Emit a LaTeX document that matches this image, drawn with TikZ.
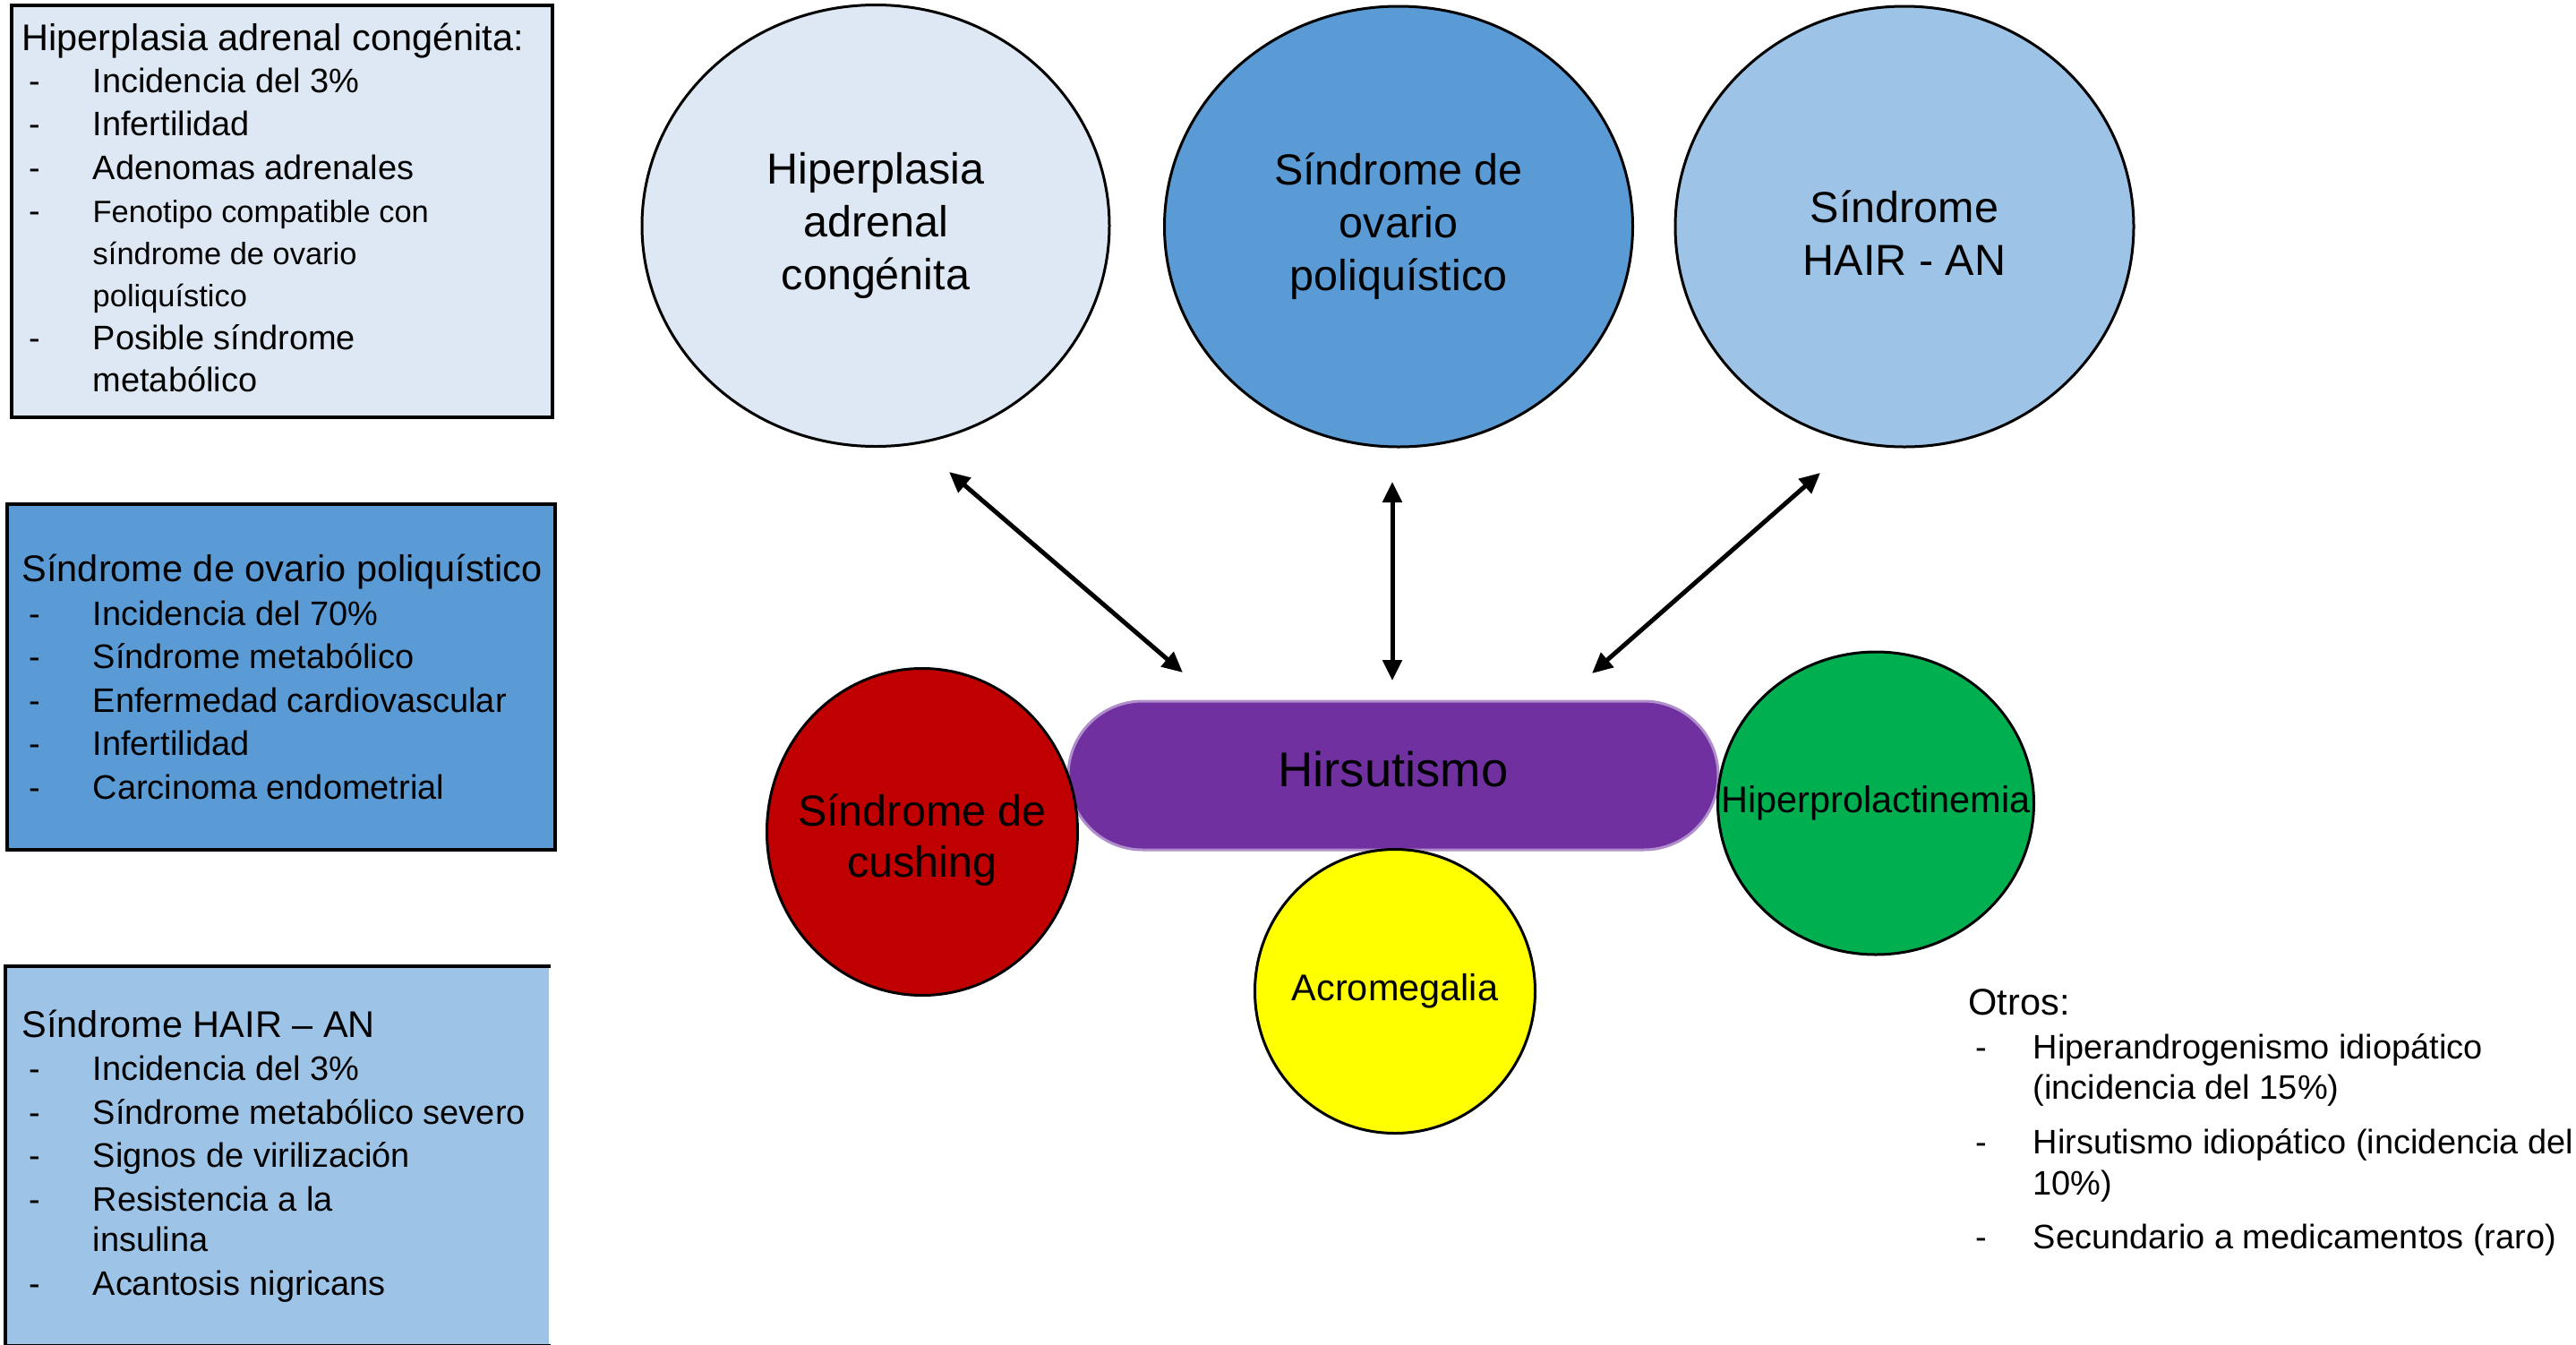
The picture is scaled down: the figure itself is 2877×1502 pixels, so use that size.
\documentclass[tikz,border=0pt]{standalone}
\usepackage{fontspec}
\setmainfont{Liberation Sans}
\usetikzlibrary{arrows.meta,shapes.geometric,positioning}
\definecolor{PaleBlue}{HTML}{DDE8F4}
\definecolor{MidBlue}{HTML}{5B9BD5}
\definecolor{SoftBlue}{HTML}{9DC3E6}
\definecolor{CushRed}{HTML}{C00000}
\definecolor{AcroYellow}{HTML}{FFFF00}
\definecolor{ProlGreen}{HTML}{00B050}
\definecolor{HirPurple}{HTML}{7030A0}
\newcommand{\boxtitle}[1]{{\fontsize{11.8}{13.8}\selectfont #1}}
\newcommand{\dsh}[2][7.9mm]{\makebox[#1][l]{\hspace{0.8mm}-}#2}
\newcommand{\cont}[2][7.9mm]{\hspace*{#1}#2}

\begin{document}
\begin{tikzpicture}[x=0.1mm,y=-0.1mm,
    infobox/.style={draw,line width=0.4mm,anchor=north west,inner sep=0pt},
    boxtext/.style={align=left,inner sep=0pt,
      font=\fontsize{10.8}{13.8}\selectfont},
    disease/.style={ellipse,draw,line width=0.3mm,inner sep=0pt},
    bigtext/.style={align=center,inner sep=0pt,
      font=\fontsize{13.8}{16.8}\selectfont},
    smalltext/.style={align=center,inner sep=0pt,
      font=\fontsize{11.8}{14}\selectfont},
    link/.style={<->,>={Triangle[length=2.3mm,width=2.1mm]},line width=0.5mm}
  ]
  \useasboundingbox (0,0) rectangle (2877,1502);

  % left column: the three summary boxes
  \node[infobox,fill=PaleBlue,minimum width=60.4mm,minimum height=46mm] (hacbox) at (11,4) {};
  \node[boxtext,right=1.3mm of hacbox.west,yshift=0.4mm] (hactext) {
    \boxtitle{Hiperplasia adrenal congénita:}\\[-0.6pt]
    \dsh{Incidencia del 3\%}\\
    \dsh{Infertilidad}\\
    \dsh{Adenomas adrenales}\\
    \dsh{\fontsize{9.8}{13}\selectfont Fenotipo compatible con}\\[-0.5pt]
    \cont{\fontsize{9.8}{13}\selectfont síndrome de ovario}\\[-0.5pt]
    \cont{\fontsize{9.8}{13}\selectfont poliquístico}\\
    \dsh{Posible síndrome}\\[-0.5pt]
    \cont{metabólico}
  };

  \node[infobox,fill=MidBlue,minimum width=61.2mm,minimum height=38.6mm] (sopbox) at (6,561) {};
  \node[boxtext,right=1.8mm of sopbox.west] (soptext) {
    \boxtitle{Síndrome de ovario poliquístico}\\
    \dsh{Incidencia del 70\%}\\
    \dsh{Síndrome metabólico}\\
    \dsh{Enfermedad cardiovascular}\\
    \dsh{Infertilidad}\\
    \dsh{Carcinoma endometrial}
  };

  \node[infobox,draw=none,fill=SoftBlue,minimum width=60.5mm,minimum height=42mm] (hairbox) at (6,1079) {};
  \draw[line width=0.4mm] (hairbox.north east) -- (hairbox.north west)
    -- (hairbox.south west) -- (hairbox.south east);
  \node[boxtext,right=1.8mm of hairbox.west] (hairtext) {
    \boxtitle{Síndrome HAIR -- AN}\\
    \dsh{Incidencia del 3\%}\\
    \dsh{Síndrome metabólico severo}\\
    \dsh{Signos de virilización}\\
    \dsh{Resistencia a la}\\[-0.8pt]
    \cont{insulina}\\
    \dsh{Acantosis nigricans}
  };

  % centre: hirsutismo and its causes
  \node[rounded corners=8.3mm,fill=HirPurple,draw=HirPurple!55!white,line width=0.3mm,
    minimum width=72.6mm,minimum height=16.6mm,inner sep=0pt,text depth=1.4mm,
    font=\fontsize{15.5}{18}\selectfont] (hirsut) at (1556,866) {Hirsutismo};

  \node[disease,fill=PaleBlue,minimum width=52.2mm,minimum height=49.3mm] (hac) at (978,252) {};
  \node[bigtext] (hactxt) at (hac) {Hiperplasia\\adrenal\\congénita};
  \node[disease,fill=MidBlue,minimum width=52.3mm,minimum height=49.2mm] (sop) at (1562,253) {};
  \node[bigtext] (soptxt) at (sop) {Síndrome de\\ovario\\poliquístico};
  \node[disease,fill=SoftBlue,minimum width=51.2mm,minimum height=49.2mm] (hair) at (2127,253) {};
  \node[bigtext,yshift=-0.7mm] (hairtxt) at (hair) {Síndrome\\HAIR - AN};

  \node[disease,fill=CushRed,minimum width=34.7mm,minimum height=36.5mm] (cush) at (1030,929) {};
  \node[bigtext,font=\fontsize{13.8}{16.2}\selectfont,yshift=-0.9mm] (cushtxt) at (cush) {Síndrome de\\cushing};
  \node[disease,fill=AcroYellow,minimum width=31.3mm,minimum height=31.7mm] (acro) at (1558,1107) {};
  \node[smalltext] (acrotxt) at (acro) {Acromegalia};
  \node[disease,fill=ProlGreen,minimum width=35.3mm,minimum height=33.8mm] (prol) at (2095,897) {};
  \node[smalltext] (proltxt) at (prol) {Hiperprolactinemia};

  % double arrows
  \coordinate (hacend) at (1060,527);
  \coordinate (hirleft) at (1321,751);
  \coordinate (sopend) at (1555,538);
  \coordinate (hirmid) at (1555,760);
  \coordinate (hairend) at (2033,528);
  \coordinate (hirright) at (1778,752);
  \draw[link] (hacend) -- (hirleft);
  \draw[link] (sopend) -- (hirmid);
  \draw[link] (hairend) -- (hirright);

  % other causes
  \node[boxtext,anchor=north west] (otros) at (2198,1104) {
    \boxtitle{Otros:}\\
    \dsh[7.2mm]{Hiperandrogenismo idiopático}\\[-0.8pt]
    \cont[7.2mm]{(incidencia del 15\%)}\\[3.4pt]
    \dsh[7.2mm]{Hirsutismo idiopático (incidencia del}\\[-0.8pt]
    \cont[7.2mm]{10\%)}\\[3.4pt]
    \dsh[7.2mm]{Secundario a medicamentos (raro)}
  };
\end{tikzpicture}
\end{document}
